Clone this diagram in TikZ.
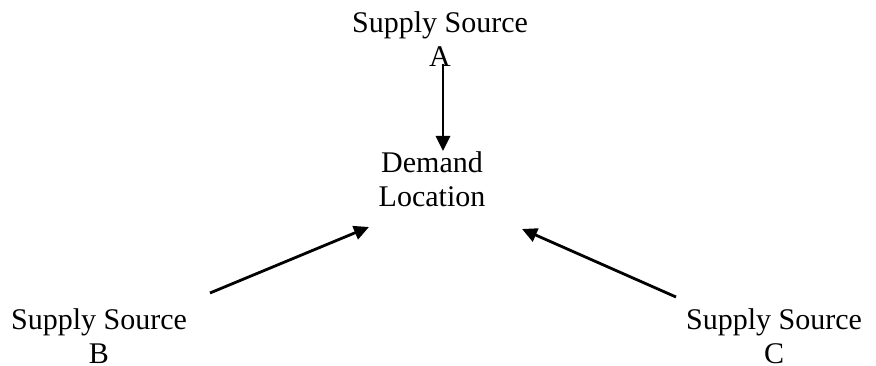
\documentclass[tikz,border=0pt]{standalone}
\usepackage{fontspec}
\setmainfont{Liberation Serif}
\usetikzlibrary{arrows.meta}
\tikzset{
  label/.style={align=center, inner sep=0pt, anchor=base,
    font=\fontsize{30}{34}\selectfont},
  flow/.style={line width=2.8pt,
    -{Triangle[length=15pt,width=14pt]}}
}
\begin{document}
\begin{tikzpicture}[x=1pt,y=1pt]
  \useasboundingbox (0,0) rectangle (876,-366);
  % sources and the demand point (anchored at the last line's baseline)
  \node[label] (srcA) at (440,-67) {Supply Source\\A};
  \node[label] (dem) at (432,-207) {Demand\\Location};
  \node[label] (srcB) at (99,-363) {Supply Source\\B};
  \node[label] (srcC) at (774,-363) {Supply Source\\C};
  % connector end points
  \coordinate (aTail) at (443,-64);
  \coordinate (aHead) at (443,-151);
  \coordinate (bTail) at (210,-293);
  \coordinate (bHead) at (369,-227);
  \coordinate (cTail) at (676,-297);
  \coordinate (cHead) at (522,-229);
  % flows into the demand location
  \draw[flow] (aTail) -- (aHead);
  \draw[flow] (bTail) -- (bHead);
  \draw[flow] (cTail) -- (cHead);
\end{tikzpicture}
\end{document}
